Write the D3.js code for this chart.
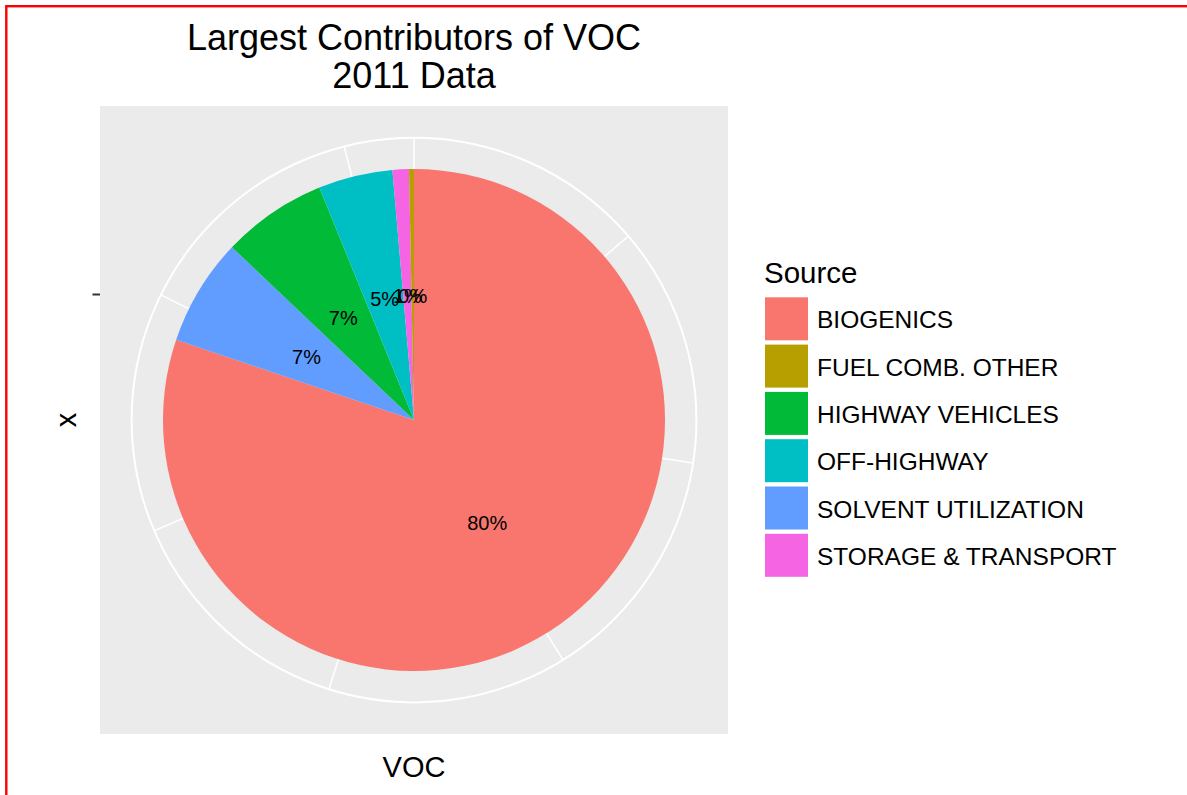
<!DOCTYPE html>
<html>
<head>
<meta charset="utf-8">
<script src="https://cdn.jsdelivr.net/npm/d3@7"></script>
<style>
  html, body { margin: 0; padding: 0; background: #ffffff; }
  svg { display: block; font-family: "Liberation Sans", Arial, sans-serif; }
</style>
</head>
<body>
<div id="chart"></div>
<script>
// Data (tons of VOC, 2011)
const sources = ['BIOGENICS', 'FUEL COMB. OTHER', 'HIGHWAY VEHICLES', 'OFF-HIGHWAY', 'SOLVENT UTILIZATION', 'STORAGE & TRANSPORT'];
const emissions = [29225000, 115000, 2465000, 1743000, 2517000, 385000];
const colors = ['#F8766D', '#B79F00', '#00BA38', '#00BFC4', '#619CFF', '#F564E3'];
// order the slices run clockwise from 12 o'clock
const stackOrder = ['BIOGENICS', 'SOLVENT UTILIZATION', 'HIGHWAY VEHICLES', 'OFF-HIGHWAY', 'STORAGE & TRANSPORT', 'FUEL COMB. OTHER'];
const titleLines = ['Largest Contributors of VOC', '2011 Data'];

const W = 1187, H = 795;
const panel = { x: 100, y: 106, size: 628 };
const cx = panel.x + panel.size / 2;
const cy = panel.y + panel.size / 2;
const rPie = 251;
const rOuter = rPie * 0.45 / 0.4;

const svg = d3.select('#chart').append('svg')
  .attr('width', W).attr('height', H);

// red frame
svg.append('rect')
  .attr('x', 6.3).attr('y', 6.2)
  .attr('width', W + 20).attr('height', H + 20)
  .attr('fill', 'none').attr('stroke', '#ff0000').attr('stroke-width', 2.4);

// panel
svg.append('rect')
  .attr('x', panel.x).attr('y', panel.y)
  .attr('width', panel.size).attr('height', panel.size)
  .attr('fill', '#EBEBEB');

const total = d3.sum(emissions);
const colorScale = d3.scaleOrdinal().domain(sources).range(colors);
const theta = d3.scaleLinear().domain([0, total]).range([0, 2 * Math.PI]);
const rScale = d3.scaleBand().domain(['']).range([0, rPie]);
const rMid = rScale('') + rScale.bandwidth() / 2;

const g = svg.append('g').attr('transform', `translate(${cx},${cy})`);

// Grid
g.append('circle')
  .attr('r', rOuter)
  .attr('fill', 'none').attr('stroke', '#ffffff').attr('stroke-width', 2);
g.selectAll('line.theta-grid')
  .data(theta.ticks(7))
  .join('line')
  .attr('class', 'theta-grid')
  .attr('x1', 0).attr('y1', 0)
  .attr('x2', d => rOuter * Math.sin(theta(d)))
  .attr('y2', d => -rOuter * Math.cos(theta(d)))
  .attr('stroke', '#ffffff').attr('stroke-width', 1.6);

// Slices
const byName = new Map(sources.map((s, i) => [s, emissions[i]]));
const rows = stackOrder.map(s => ({ source: s, value: byName.get(s) }));
const pie = d3.pie().sort(null).value(d => d.value);
const arcs = pie(rows);
const arc = d3.arc().innerRadius(0).outerRadius(rPie);

g.selectAll('path.slice')
  .data(arcs)
  .join('path')
  .attr('class', 'slice')
  .attr('d', arc)
  .attr('fill', d => colorScale(d.data.source));

// Percent labels
g.selectAll('text.pct')
  .data(arcs)
  .join('text')
  .attr('class', 'pct')
  .attr('x', d => rMid * Math.sin((d.startAngle + d.endAngle) / 2))
  .attr('y', d => -rMid * Math.cos((d.startAngle + d.endAngle) / 2))
  .attr('dy', '0.42em')
  .attr('text-anchor', 'middle')
  .attr('fill', '#000000')
  .style('font-size', '20px')
  .text(d => Math.round(100 * d.data.value / total) + '%');

// r axis tick on the left
svg.append('line')
  .attr('x1', panel.x - 7.5).attr('x2', panel.x)
  .attr('y1', cy - rMid).attr('y2', cy - rMid)
  .attr('stroke', '#333333').attr('stroke-width', 2);

// Titles
svg.selectAll('text.title')
  .data(titleLines)
  .join('text')
  .attr('class', 'title')
  .attr('x', cx)
  .attr('y', (d, i) => 50 + i * 38)
  .attr('text-anchor', 'middle')
  .style('font-size', '36px')
  .text(d => d);

svg.append('text')
  .attr('x', cx).attr('y', 777)
  .attr('text-anchor', 'middle')
  .style('font-size', '29px')
  .text('VOC');

svg.append('text')
  .attr('transform', `translate(76,${cy}) rotate(-90)`)
  .attr('text-anchor', 'middle')
  .style('font-size', '29px')
  .text('x');

// Legend
const legend = svg.append('g').attr('transform', 'translate(765,0)');
legend.append('text')
  .attr('x', -1).attr('y', 283)
  .style('font-size', '29.5px')
  .text('Source');

const keys = legend.selectAll('g.key')
  .data(sources)
  .join('g')
  .attr('class', 'key')
  .attr('transform', (d, i) => `translate(0,${297.3 + i * 47.3})`);
keys.append('rect')
  .attr('width', 43).attr('height', 43)
  .attr('fill', d => colorScale(d));
keys.append('text')
  .attr('x', 52).attr('y', 31)
  .style('font-size', '24.5px')
  .text(d => d);
</script>
</body>
</html>
